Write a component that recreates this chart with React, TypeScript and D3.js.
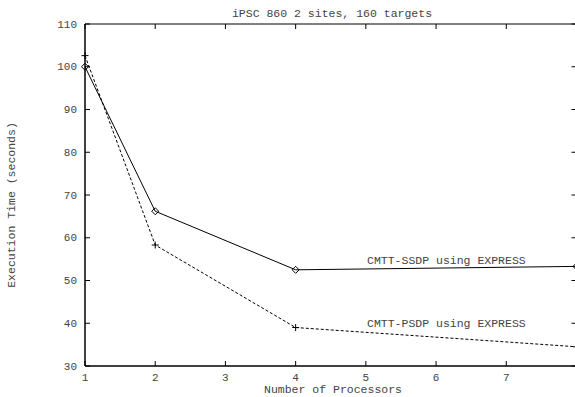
import React from "react";
import * as d3 from "d3";

const processors = [1, 2, 4, 8];
const ssdp = [100, 66.2, 52.5, 53.3];
const psdpX = [1, 2, 4, 8];
const psdp = [102.6, 58.3, 39.0, 34.5];
const xTicks = [1, 2, 3, 4, 5, 6, 7];
const yTicks = [30, 40, 50, 60, 70, 80, 90, 100, 110];
const title = "iPSC 860 2 sites, 160 targets";
const xLabel = "Number of Processors";
const yLabel = "Execution Time (seconds)";
const ssdpLabel = "CMTT-SSDP using EXPRESS";
const psdpLabel = "CMTT-PSDP using EXPRESS";

export default function App() {
  const W = 575, H = 397;
  const left = 85, right = 576.5, top = 24, bottom = 366;
  const x = d3.scaleLinear().domain([1, 8]).range([left, right]);
  const y = d3.scaleLinear().domain([30, 110]).range([bottom, top]);
  const line = d3.line<[number, number]>().x(d => x(d[0])).y(d => y(d[1]));
  const sPts: [number, number][] = processors.map((p, i) => [p, ssdp[i]]);
  const pPts: [number, number][] = psdpX.map((p, i) => [p, psdp[i]]);
  const font = "'Liberation Mono', 'DejaVu Sans Mono', monospace";
  const tc = "#444";
  return (
    <svg width={W} height={H} style={{ position: "absolute", left: 0, top: 0 }}>
      <rect width={W} height={H} fill="#fff" />
      <line x1={left} x2={right} y1={top} y2={top} stroke="#000" strokeWidth={1} />
      <line x1={right} x2={right} y1={top} y2={bottom} stroke="#000" strokeWidth={1} />
      <line x1={left} x2={left} y1={top} y2={bottom} stroke="#000" strokeWidth={1.5} />
      <line x1={left} x2={right} y1={bottom} y2={bottom} stroke="#000" strokeWidth={1.5} />
      {xTicks.map(t => (
        <g key={"x" + t}>
          <line x1={x(t)} x2={x(t)} y1={bottom} y2={bottom - 5} stroke="#000" />
          <line x1={x(t)} x2={x(t)} y1={top} y2={top + 5} stroke="#000" />
          <text x={x(t)} y={381} textAnchor="middle" fontFamily={font} fontSize={11} fill={tc}>{t}</text>
        </g>
      ))}
      {yTicks.map(t => (
        <g key={"y" + t}>
          <line x1={left} x2={left + 5} y1={y(t)} y2={y(t)} stroke="#000" />
          <line x1={right} x2={right - 5} y1={y(t)} y2={y(t)} stroke="#000" />
          <text x={77} y={y(t) + 3.5} textAnchor="end" fontFamily={font} fontSize={11} fill={tc}>{t}</text>
        </g>
      ))}
      <text x={332} y={16.5} textAnchor="middle" fontFamily={font} fontSize={11.5} fill={tc}>{title}</text>
      <text x={333} y={393} textAnchor="middle" fontFamily={font} fontSize={11.5} fill={tc}>{xLabel}</text>
      <text transform={`translate(15,205) rotate(-90)`} textAnchor="middle" fontFamily={font} fontSize={11.5} fill={tc}>{yLabel}</text>
      <path d={line(sPts) || ""} fill="none" stroke="#000" strokeWidth={1} />
      <path d={line(pPts) || ""} fill="none" stroke="#000" strokeWidth={1} strokeDasharray="3,2" />
      {sPts.map((d, i) => (
        <path key={"s" + i} d={`M${x(d[0])},${y(d[1]) - 3.5}l3.5,3.5l-3.5,3.5l-3.5,-3.5z`} fill="none" stroke="#000" strokeWidth={1} />
      ))}
      {pPts.map((d, i) => (
        <path key={"p" + i} d={`M${x(d[0]) - 3.5},${y(d[1])}h7M${x(d[0])},${y(d[1]) - 3.5}v7`} fill="none" stroke="#000" strokeWidth={1} />
      ))}
      <text x={367} y={264} fontFamily={font} fontSize={11.5} fill={tc}>{ssdpLabel}</text>
      <text x={367} y={327} fontFamily={font} fontSize={11.5} fill={tc}>{psdpLabel}</text>
    </svg>
  );
}
